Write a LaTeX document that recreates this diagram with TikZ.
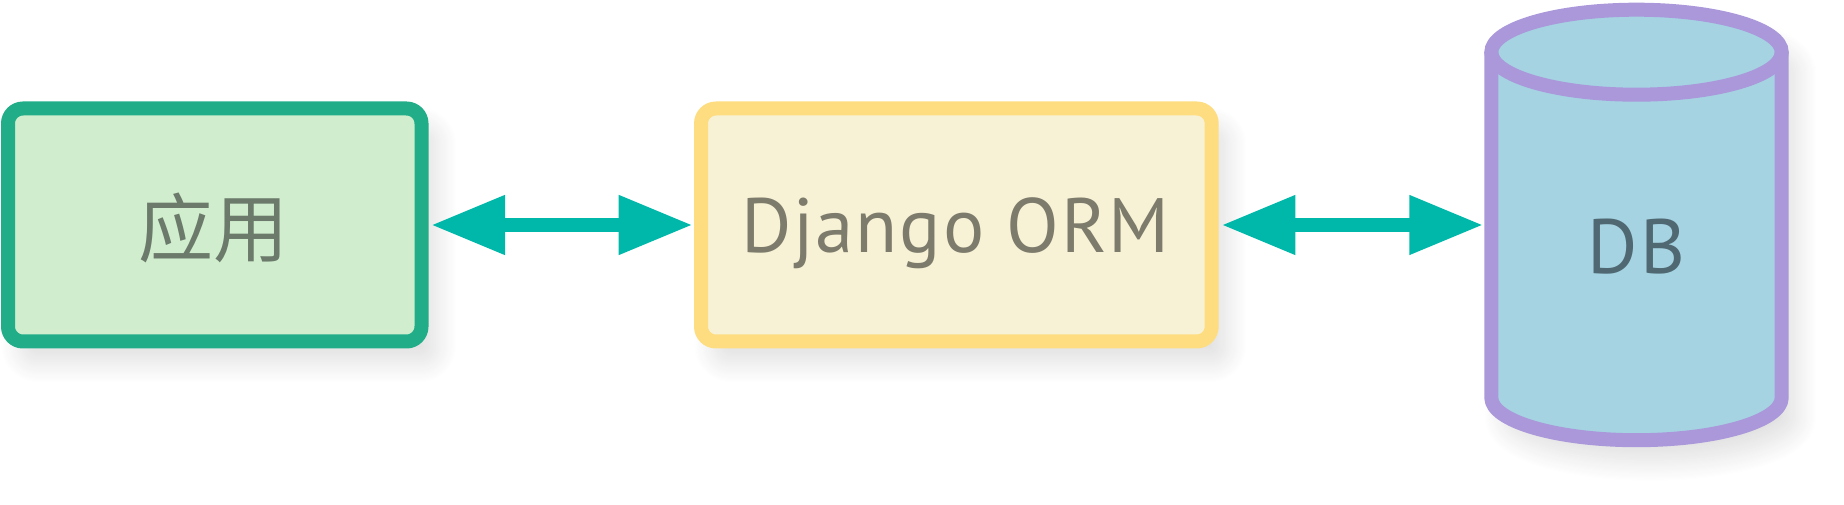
\documentclass[tikz,border=0pt]{standalone}
\usepackage{fontspec}
\setmainfont{PT Sans}
\newfontfamily\cjk{Noto Sans CJK SC}
\usetikzlibrary{arrows.meta,shadows.blur}
\definecolor{appfill}{HTML}{D0EECD}
\definecolor{appline}{HTML}{21AD88}
\definecolor{apptext}{HTML}{6B7A6B}
\definecolor{ormfill}{HTML}{F7F2D5}
\definecolor{ormline}{HTML}{FEDD80}
\definecolor{ormtext}{HTML}{7D7B6B}
\definecolor{dbfill}{HTML}{A5D3E2}
\definecolor{dbline}{HTML}{AA98DA}
\definecolor{dbtext}{HTML}{4F6872}
\definecolor{arrowc}{HTML}{00B8AA}
\tikzset{
  softshadow/.style={blur shadow={shadow xshift=14pt, shadow yshift=-20pt, shadow blur radius=22pt, shadow blur steps=20, shadow opacity=13}},
  boxstyle/.style={rectangle, rounded corners=15pt, line width=14pt, minimum height=233pt, softshadow, inner sep=0pt},
  labelstyle/.style={inner sep=0pt, font=\fontsize{77}{92}\selectfont\addfontfeature{LetterSpace=2.4}},
  cjklabel/.style={inner sep=0pt, font=\fontsize{75}{90}\selectfont\cjk},
  link/.style={line width=14pt, draw=arrowc, {Triangle[length=74pt,width=56pt]}-{Triangle[length=74pt,width=56pt]}}
}
\begin{document}
\begin{tikzpicture}[x=1pt,y=1pt]
\useasboundingbox (0,0) rectangle (1844,505);
% boxes
\node[boxstyle, draw=appline, fill=appfill, minimum width=413.5pt] (app) at (214.75,280) {};
\node[boxstyle, draw=ormline, fill=ormfill, minimum width=510.7pt] (orm) at (956.35,280) {};
% cylinder
\path[fill=dbfill, softshadow] (1491.3,452.8) -- (1491.3,107.3)
  arc[start angle=180,end angle=360,x radius=145.2,y radius=42.5]
  -- (1781.7,452.8)
  arc[start angle=0,end angle=180,x radius=145.2,y radius=42.5] -- cycle;
\draw[draw=dbline, line width=14pt, line join=round] (1491.3,452.8) -- (1491.3,107.3)
  arc[start angle=180,end angle=360,x radius=145.2,y radius=42.5]
  -- (1781.7,452.8);
\draw[draw=dbline, line width=14pt] (1636.5,452.8) ellipse[x radius=145.2, y radius=42.5];
\node[rectangle, minimum width=290.4pt, minimum height=388pt, outer sep=7pt, inner sep=0pt] (db) at (1636.5,280) {};
% labels
\node[cjklabel, text=apptext, anchor=base] (applabel) at (213,248) {应用};
\node[labelstyle, text=ormtext, anchor=base] (ormlabel) at (955.5,252.7) {Django ORM};
\node[labelstyle, text=dbtext, anchor=base] (dblabel) at (1636.5,231.7) {DB};
% connectors
\draw[link, shorten <=2.5pt, shorten >=1.3pt] (app.east) -- (orm.west);
\draw[link, shorten <=2.7pt, shorten >=1pt] (orm.east) -- (db.west);
\end{tikzpicture}
\end{document}
